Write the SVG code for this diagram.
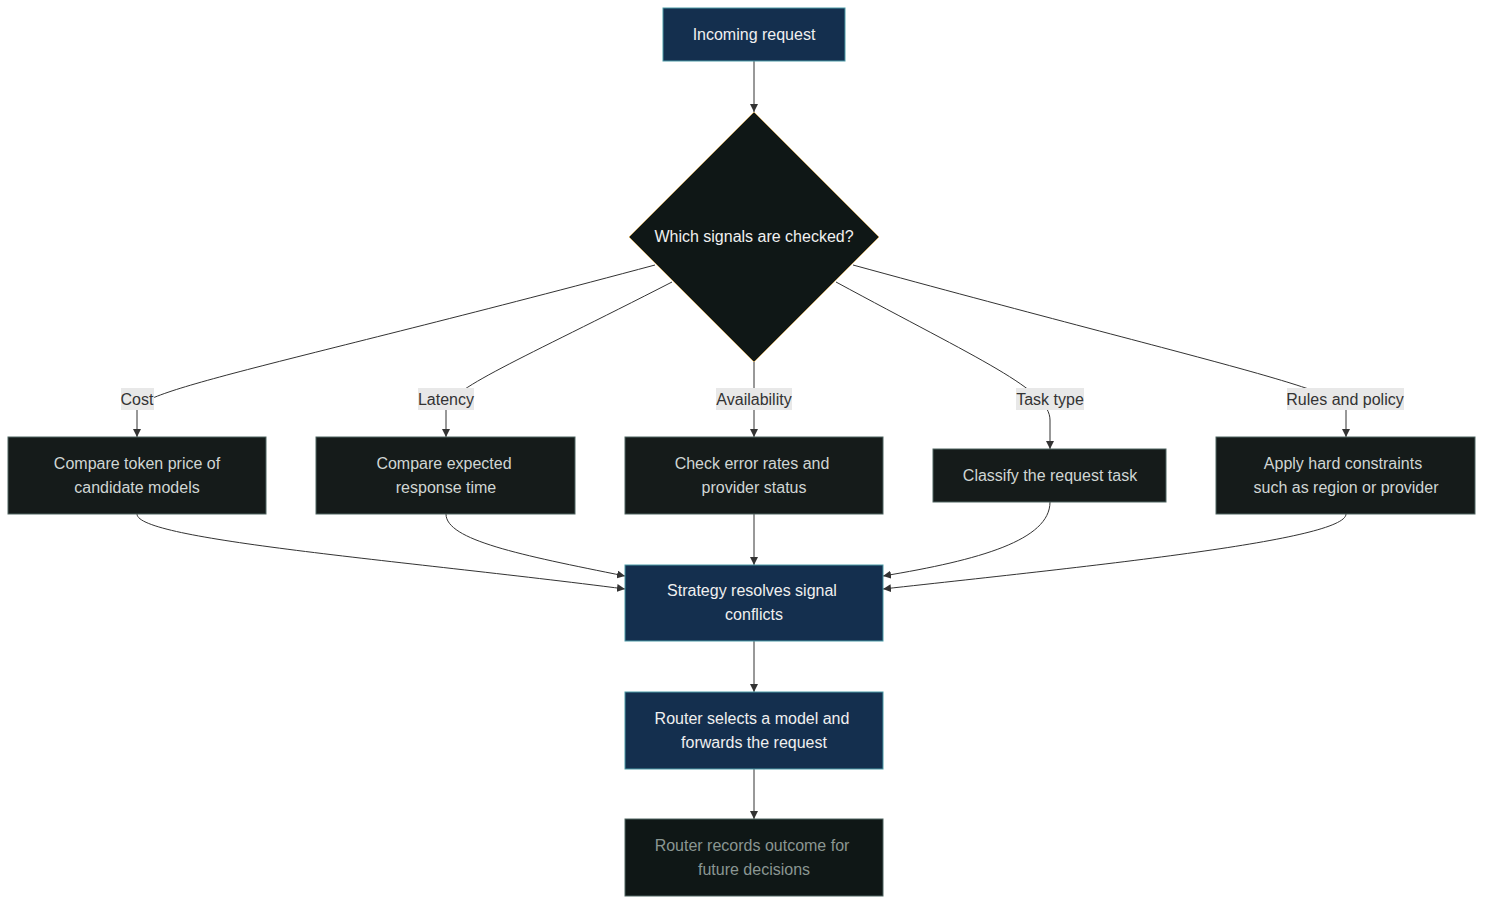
<svg xmlns="http://www.w3.org/2000/svg" width="1491" height="910" viewBox="0 0 1491 910">
<style>
text{font-family:"Liberation Sans",Arial,sans-serif;font-size:16px;text-anchor:middle;dominant-baseline:central}
.blue rect{fill:#142f4e;stroke:#4a9aa6;stroke-width:1}
.blue text{fill:#f0f0f0}
.dark rect{fill:#151b1a;stroke:#4f6560;stroke-width:1}
.dark text{fill:#d0d6d4}
.e{fill:none;stroke:#333;stroke-width:1;marker-end:url(#a)}
.lb rect{fill:#e8e8e8}
.lb text{fill:#333}
</style>
<defs><marker id="a" viewBox="0 0 10 10" refX="10" refY="5" markerWidth="8" markerHeight="8" orient="auto"><path d="M0,0L10,5L0,10z" fill="#333"/></marker></defs>
<rect width="1491" height="910" fill="#fff"/>
<g id="connectors">
<path class="e" d="M754,61L754,112"/>
<path class="e" d="M655,265C300,360 137,390 137,410L137,437"/>
<path class="e" d="M672,282C520,360 446,390 446,410L446,437"/>
<path class="e" d="M754,362L754,437"/>
<path class="e" d="M836,282C980,360 1050,390 1050,420L1050,449"/>
<path class="e" d="M853,265C1200,360 1346,390 1346,410L1346,437"/>
<path class="e" d="M137,514C137,540 400,560 625,589"/>
<path class="e" d="M446,514C446,540 520,555 625,576"/>
<path class="e" d="M754,514L754,565"/>
<path class="e" d="M1050,502C1050,540 980,560 883,576"/>
<path class="e" d="M1346,514C1346,540 1100,565 883,589"/>
<path class="e" d="M754,641L754,692"/>
<path class="e" d="M754,769L754,819"/>
</g>
<g class="lb">
<rect x="121" y="388" width="33" height="22"/><text x="137" y="399">Cost</text>
<rect x="418" y="388" width="56" height="22"/><text x="446" y="399">Latency</text>
<rect x="716" y="388" width="76" height="22"/><text x="754" y="399">Availability</text>
<rect x="1016" y="388" width="68" height="22"/><text x="1050" y="399">Task type</text>
<rect x="1287" y="388" width="117" height="22"/><text x="1345" y="399">Rules and policy</text>
</g>
<g id="incoming" class="blue"><rect x="663" y="8" width="182" height="53"/><text x="754" y="34">Incoming request</text></g>
<g id="decision"><path d="M754,112L879,237L754,362L629,237Z" fill="#0f1716" stroke="#c8a86a" stroke-width="1"/><text x="754" y="236" fill="#f0f0f0">Which signals are checked?</text></g>
<g id="cost" class="dark"><rect x="8" y="437" width="258" height="77"/><text x="137" y="463">Compare token price of</text><text x="137" y="487">candidate models</text></g>
<g id="latency" class="dark"><rect x="316" y="437" width="259" height="77"/><text x="444" y="463">Compare expected</text><text x="446" y="487">response time</text></g>
<g id="availability" class="dark"><rect x="625" y="437" width="258" height="77"/><text x="752" y="463">Check error rates and</text><text x="754" y="487">provider status</text></g>
<g id="task" class="dark"><rect x="933" y="449" width="233" height="53"/><text x="1050" y="475">Classify the request task</text></g>
<g id="rules" class="dark"><rect x="1216" y="437" width="259" height="77"/><text x="1343" y="463">Apply hard constraints</text><text x="1346" y="487">such as region or provider</text></g>
<g id="strategy" class="blue"><rect x="625" y="565" width="258" height="76"/><text x="752" y="590">Strategy resolves signal</text><text x="754" y="614">conflicts</text></g>
<g id="router" class="blue"><rect x="625" y="692" width="258" height="77"/><text x="752" y="718">Router selects a model and</text><text x="754" y="742">forwards the request</text></g>
<g id="records"><rect x="625" y="819" width="258" height="77" fill="#0f1716" stroke="#4f6560"/><text x="752" y="845" fill="#8a9692">Router records outcome for</text><text x="754" y="869" fill="#8a9692">future decisions</text></g>
</svg>
